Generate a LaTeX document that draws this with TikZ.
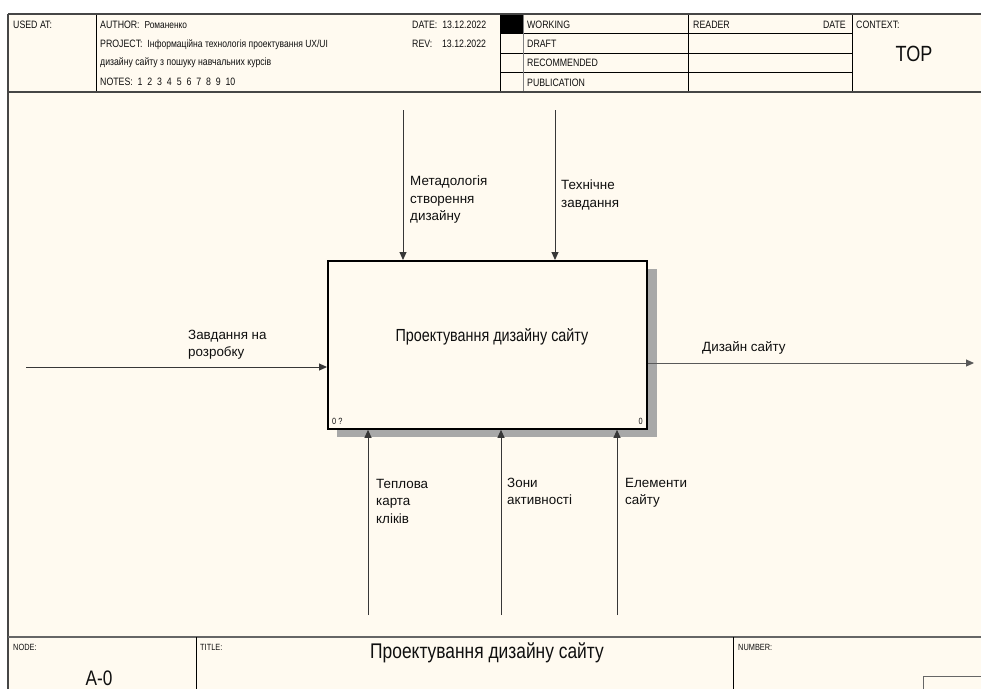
\documentclass[tikz,border=0pt]{standalone}
\usepackage{fontspec}
\setmainfont{Liberation Sans}
\newfontfamily\cond[FakeStretch=0.82]{Liberation Sans}
\usetikzlibrary{arrows.meta,patterns}
\definecolor{paper}{RGB}{255,250,240}
\definecolor{frameline}{RGB}{70,70,70}
\definecolor{thinline}{RGB}{55,55,55}
\definecolor{shadowgray}{RGB}{168,168,168}
\definecolor{inkgray}{RGB}{15,15,15}
\tikzset{
  frame/.style={draw=frameline, line width=1.8pt},
  cell/.style={draw=black, line width=0.9pt},
  hdr/.style={anchor=base west, inner sep=0pt, text=inkgray, font=\cond\fontsize{10.7}{12}\selectfont},
  hdrval/.style={anchor=base west, inner sep=0pt, text=inkgray, font=\cond\fontsize{10.6}{12}\selectfont},
  tiny/.style={anchor=base west, inner sep=0pt, text=inkgray, font=\cond\fontsize{9}{10}\selectfont},
  flowlabel/.style={anchor=north west, inner sep=0pt, align=left, text=inkgray,
    font=\fontsize{13.4}{17.3}\selectfont},
  flow/.style={draw=thinline, line width=1pt, -{Triangle[length=8pt,width=7pt]}},
  activity/.style={draw=black, line width=1.8pt, fill=paper, inner sep=0pt,
    minimum width=319pt, minimum height=168pt, anchor=north west},
}
\begin{document}
\begin{tikzpicture}[x=1pt,y=-1pt]
\useasboundingbox (0,0) rectangle (981,689);
\fill[white] (0,0) rectangle (981,689);
\fill[paper] (8,14) rectangle (981,689);

% ---------- header block ----------
\fill[black] (500,14) rectangle (523,33);
\foreach \y in {33,53,72} \draw[cell] (500,\y) -- (852,\y);
\draw[cell] (96,14) -- (96,92);
\draw[cell] (500,14) -- (500,92);
\draw[draw=gray, line width=0.9pt] (523,14) -- (523,92);
\draw[cell] (688,14) -- (688,92);
\draw[cell] (852,14) -- (852,92);
\draw[frame] (8,14) -- (981,14);
\draw[frame] (8,92) -- (981,92);
\draw[frame] (8,14) -- (8,689);

\node[hdr] (usedat) at (13,28) {USED AT:};
\node[hdr] (author) at (100,28) {AUTHOR:\ \ {\fontsize{10.2}{12}\selectfont Романенко}};
\node[hdr] (project) at (100,47) {PROJECT:\ \ {\fontsize{10.4}{12}\selectfont Інформаційна технологія проектування UX/UI}};
\node[hdrval] (project2) at (100,65) {дизайну сайту з пошуку навчальних курсів};
\node[hdr] (notes) at (100,85.5) {NOTES:\ \ 1\ \ 2\ \ 3\ \ 4\ \ 5\ \ 6\ \ 7\ \ 8\ \ 9\ \ 10};
\node[hdr] (date) at (412,28) {DATE:\ \ 13.12.2022};
\node[hdr] (rev) at (412,47) {REV:\ \ \ \ 13.12.2022};
\node[hdr] (working) at (527,28) {WORKING};
\node[hdr] (draft) at (527,47) {DRAFT};
\node[hdr] (recommended) at (527,66.5) {RECOMMENDED};
\node[hdr] (publication) at (527,86) {PUBLICATION};
\node[hdr] (reader) at (693,28) {READER};
\node[hdr, anchor=base east] (rdate) at (846,28) {DATE};
\node[hdr] (context) at (856,28) {CONTEXT:};
\node[inner sep=0pt, text=inkgray, font=\cond\fontsize{22}{24}\selectfont] (top) at (914,54) {TOP};

% ---------- activity box ----------
\fill[shadowgray] (337,428) rectangle (657,437);
\fill[shadowgray] (646,269) rectangle (657,437);
\node[activity] (act) at (327,260) {};
\node[inner sep=0pt, text=inkgray, font=\cond\fontsize{17.5}{20}\selectfont] (acttitle) at (492,337) {Проектування дизайну сайту};
\node[tiny] (num1) at (332,424) {0 ?};
\node[tiny, anchor=base east] (num2) at (643,424) {0};

% ---------- connectors ----------
\coordinate (ctrl1) at (403,110);
\coordinate (ctrl2) at (555,110);
\coordinate (inp) at (26,367);
\coordinate (outp) at (974,363);
\coordinate (mech1) at (368,615);
\coordinate (mech2) at (501,615);
\coordinate (mech3) at (617,615);

\draw[flow] (ctrl1) -- (ctrl1 |- act.north);
\draw[flow] (ctrl2) -- (ctrl2 |- act.north);
\draw[flow] (inp) -- (inp -| act.west);
\draw[flow, draw=gray!70!black] (outp -| act.east) -- (outp);
\draw[flow] (mech1) -- (mech1 |- act.south);
\draw[flow] (mech2) -- (mech2 |- act.south);
\draw[flow] (mech3) -- (mech3 |- act.south);

\node[flowlabel] (lctrl1) at (410,176) {Метадологія\\створення\\дизайну};
\node[flowlabel] (lctrl2) at (561,180) {Технічне\\завдання};
\node[flowlabel] (linp) at (188,330) {Завдання на\\розробку};
\node[flowlabel] (loutp) at (702,341) {Дизайн сайту};
\node[flowlabel] (lmech1) at (376,479) {Теплова\\карта\\кліків};
\node[flowlabel] (lmech2) at (507,478) {Зони\\активності};
\node[flowlabel] (lmech3) at (625,478) {Елементи\\сайту};

% ---------- footer block ----------
\draw[draw=gray!80!black, line width=1.8pt] (8,637) -- (981,637);
\draw[cell] (196,637) -- (196,689);
\draw[cell] (733,637) -- (733,689);
\draw[draw=gray!80!black, line width=1pt] (923,689) -- (923,676) -- (981,676);
\node[tiny] (nodelbl) at (13,650) {NODE:};
\node[tiny] (titlelbl) at (200,650) {TITLE:};
\node[tiny] (numberlbl) at (738,650) {NUMBER:};
\node[inner sep=0pt, text=inkgray, font=\cond\fontsize{21}{24}\selectfont] (nodeid) at (99,678) {A-0};
\node[inner sep=0pt, text=inkgray, font=\cond\fontsize{21.2}{24}\selectfont] (title) at (487,653) {Проектування дизайну сайту};
\end{tikzpicture}
\end{document}
